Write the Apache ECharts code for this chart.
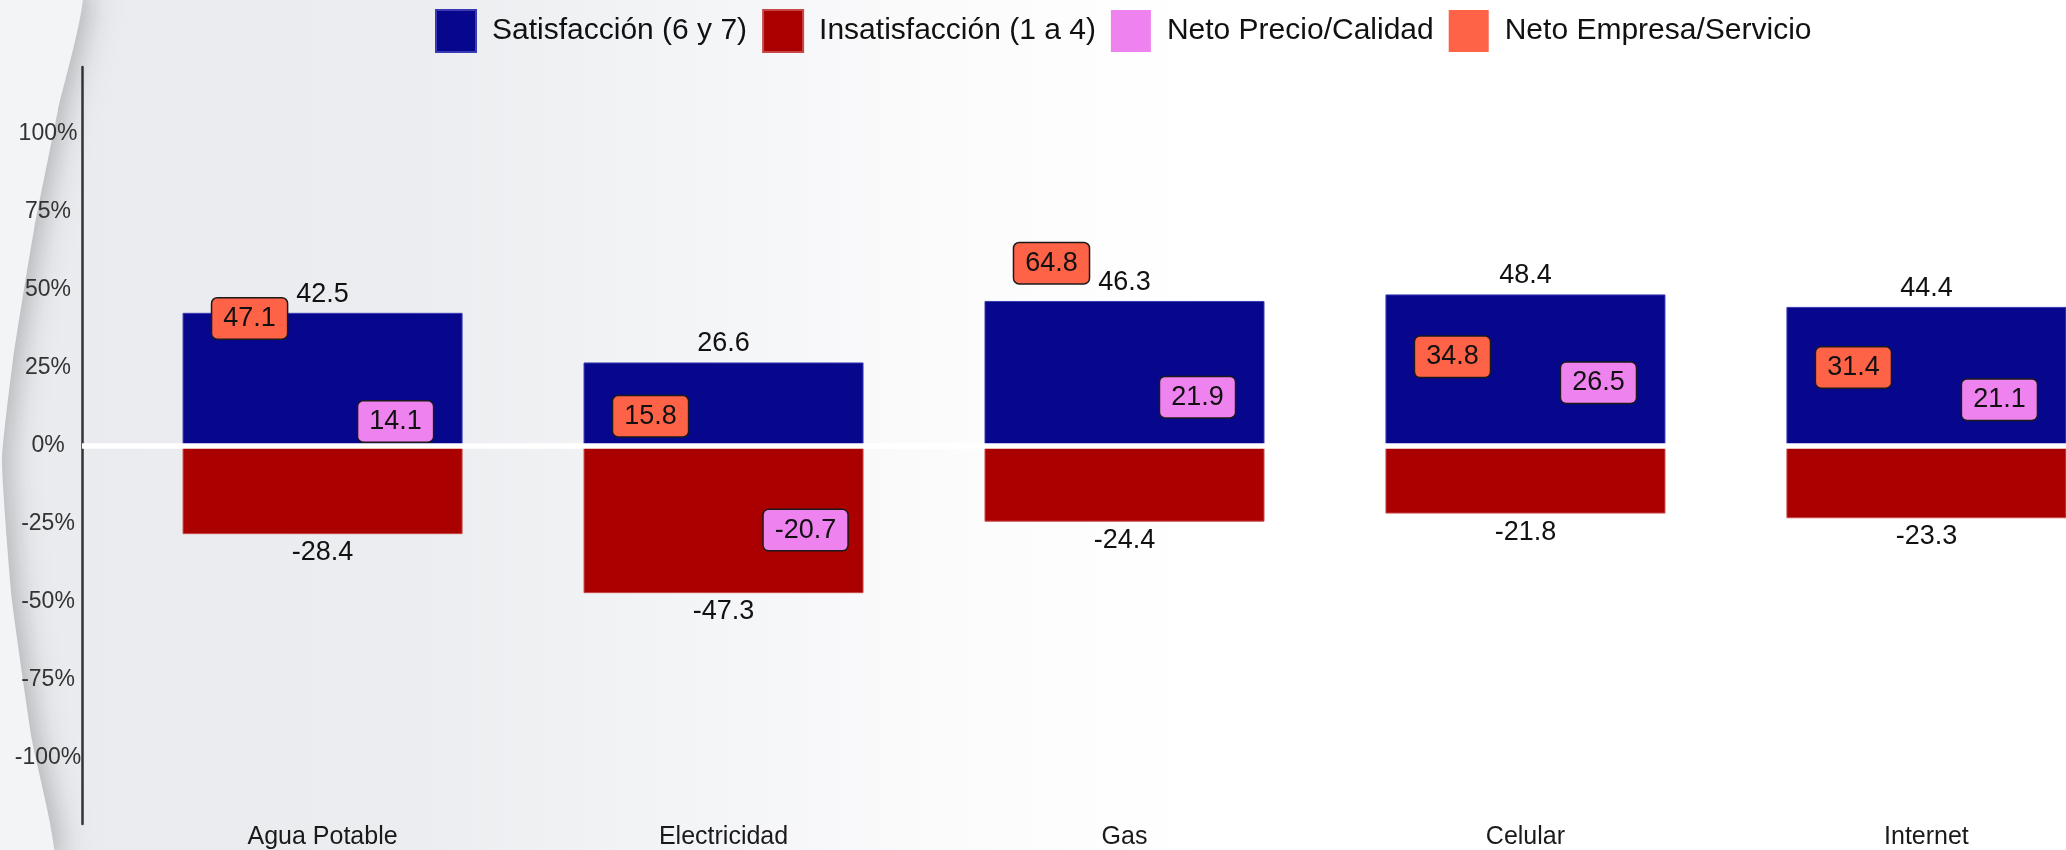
<!DOCTYPE html>
<html>
<head>
<meta charset="utf-8">
<script src="https://cdn.jsdelivr.net/npm/echarts@6/dist/echarts.min.js"></script>
<style>
  html, body { margin: 0; padding: 0; background: #ffffff; overflow: hidden; }
  #chart { width: 2180px; height: 850px; }
</style>
</head>
<body>
<div id="chart"></div>
<script>
const categories = ['Agua Potable', 'Electricidad', 'Gas', 'Celular', 'Internet'];
const satisfaccion = [42.5, 26.6, 46.3, 48.4, 44.4];
const insatisfaccion = [-28.4, -47.3, -24.4, -21.8, -23.3];
const netoPrecioCalidad = [14.1, -20.7, 21.9, 26.5, 21.1];
const netoEmpresaServicio = [47.1, 15.8, 64.8, 34.8, 31.4];
const yTickValues = [-100, -75, -50, -25, 0, 25, 50, 75, 100];
const xTickValues = [0, 1, 2, 3, 4];

const FONT = "'Liberation Sans', Arial, Helvetica, sans-serif";
const C_SAT = '#07078E';
const C_INS = '#AA0000';
const C_PRE = '#EE82EE';
const C_EMP = '#FF6347';

const pts = arr => arr.map((v, i) => [i, v]);
const fmt1 = p => Number(p.value[1]).toFixed(1);

function boxLabel(bg, shiftX) {
  return {
    show: true,
    position: 'bottom',
    distance: 0,
    offset: [shiftX, 0],
    formatter: fmt1,
    fontFamily: FONT,
    fontSize: 27,
    lineHeight: 28,
    color: '#111111',
    backgroundColor: bg,
    borderColor: '#1a1a1a',
    borderWidth: 1.5,
    borderRadius: 5,
    padding: [6, 11, 6, 11]
  };
}

const chart = echarts.init(document.getElementById('chart'), null, { renderer: 'canvas' });

const precioData = pts(netoPrecioCalidad).map((d, i) => {
  const item = { value: d };
  if (i === 1) item.label = { offset: [82, 0] };
  return item;
});

const option = {
  backgroundColor: 'transparent',
  animation: false,
  graphic: [
    {
      type: 'rect', z: -100, silent: true,
      shape: { x: 0, y: 0, width: 2180, height: 850 },
      style: {
        fill: {
          type: 'linear', x: 0, y: 0, x2: 1, y2: 0,
          colorStops: [
            { offset: 0, color: '#EAEBEF' },
            { offset: 0.19, color: '#ECEDF0' },
            { offset: 0.31, color: '#F3F4F6' },
            { offset: 0.43, color: '#FBFBFC' },
            { offset: 0.55, color: '#FFFFFF' },
            { offset: 1, color: '#FFFFFF' }
          ]
        }
      }
    },
    {
      type: 'polygon', z: -90, silent: true,
      shape: {
        points: [[-20, -10], [82, -10], [58, 110], [34, 230], [13, 360], [2, 460], [12, 600], [32, 740], [54, 860], [-20, 860]],
        smooth: 0.15
      },
      style: {
        fill: '#F3F4F6',
        shadowBlur: 30,
        shadowColor: 'rgba(0,0,0,0.26)',
        shadowOffsetX: 6
      }
    }
  ],
  legend: {
    left: 430,
    top: 4,
    icon: 'rect',
    itemWidth: 40,
    itemHeight: 42,
    itemGap: 15,
    selectedMode: false,
    textStyle: {
      fontFamily: FONT,
      fontSize: 30,
      color: '#111111',
      padding: [0, 0, 0, 11]
    },
    data: ['Satisfacción (6 y 7)', 'Insatisfacción (1 a 4)', 'Neto Precio/Calidad', 'Neto Empresa/Servicio']
  },
  grid: {
    left: 82,
    top: 67,
    width: 2085,
    height: 757,
    containLabel: false
  },
  xAxis: {
    type: 'value',
    min: -0.6,
    max: 4.6,
    axisLine: { show: false },
    axisTick: { show: false },
    splitLine: { show: false },
    axisLabel: {
      customValues: xTickValues,
      formatter: v => categories[v] || '',
      fontFamily: FONT,
      fontSize: 25,
      color: '#1a1a1a',
      margin: 1
    }
  },
  yAxis: {
    type: 'value',
    min: -121.25,
    max: 121.25,
    axisLine: { show: true, onZero: false, lineStyle: { color: '#333333', width: 2.5 } },
    axisTick: { show: false },
    splitLine: { show: false },
    axisLabel: {
      customValues: yTickValues,
      formatter: v => v + '%',
      fontFamily: FONT,
      fontSize: 23,
      color: '#333333',
      align: 'center',
      margin: 34
    }
  },
  series: [
    {
      name: 'Satisfacción (6 y 7)',
      type: 'bar',
      barWidth: 280,
      barGap: '-100%',
      z: 2,
      itemStyle: { color: C_SAT, borderColor: '#3A3AB4', borderWidth: 1 },
      label: {
        show: true, position: 'top', distance: 5, formatter: fmt1,
        fontFamily: FONT, fontSize: 27, color: '#111111'
      },
      data: pts(satisfaccion)
    },
    {
      name: 'Insatisfacción (1 a 4)',
      type: 'bar',
      barWidth: 280,
      barGap: '-100%',
      z: 2,
      itemStyle: { color: C_INS, borderColor: '#C84848', borderWidth: 1 },
      label: {
        show: true, position: 'bottom', distance: 5, formatter: fmt1,
        fontFamily: FONT, fontSize: 27, color: '#111111'
      },
      markLine: {
        silent: true,
        symbol: ['none', 'none'],
        z: 4,
        label: { show: false },
        lineStyle: { color: '#FFFFFF', width: 5.5, type: 'solid', opacity: 1 },
        data: [{ yAxis: 0 }]
      },
      data: pts(insatisfaccion)
    },
    {
      name: 'Neto Precio/Calidad',
      type: 'scatter',
      symbolSize: 0,
      z: 6,
      itemStyle: { color: C_PRE, opacity: 1 },
      label: boxLabel(C_PRE, 73),
      data: precioData
    },
    {
      name: 'Neto Empresa/Servicio',
      type: 'scatter',
      symbolSize: 0,
      z: 6,
      itemStyle: { color: C_EMP, opacity: 1 },
      label: boxLabel(C_EMP, -73),
      data: pts(netoEmpresaServicio)
    }
  ]
};

chart.setOption(option);
</script>
</body>
</html>
